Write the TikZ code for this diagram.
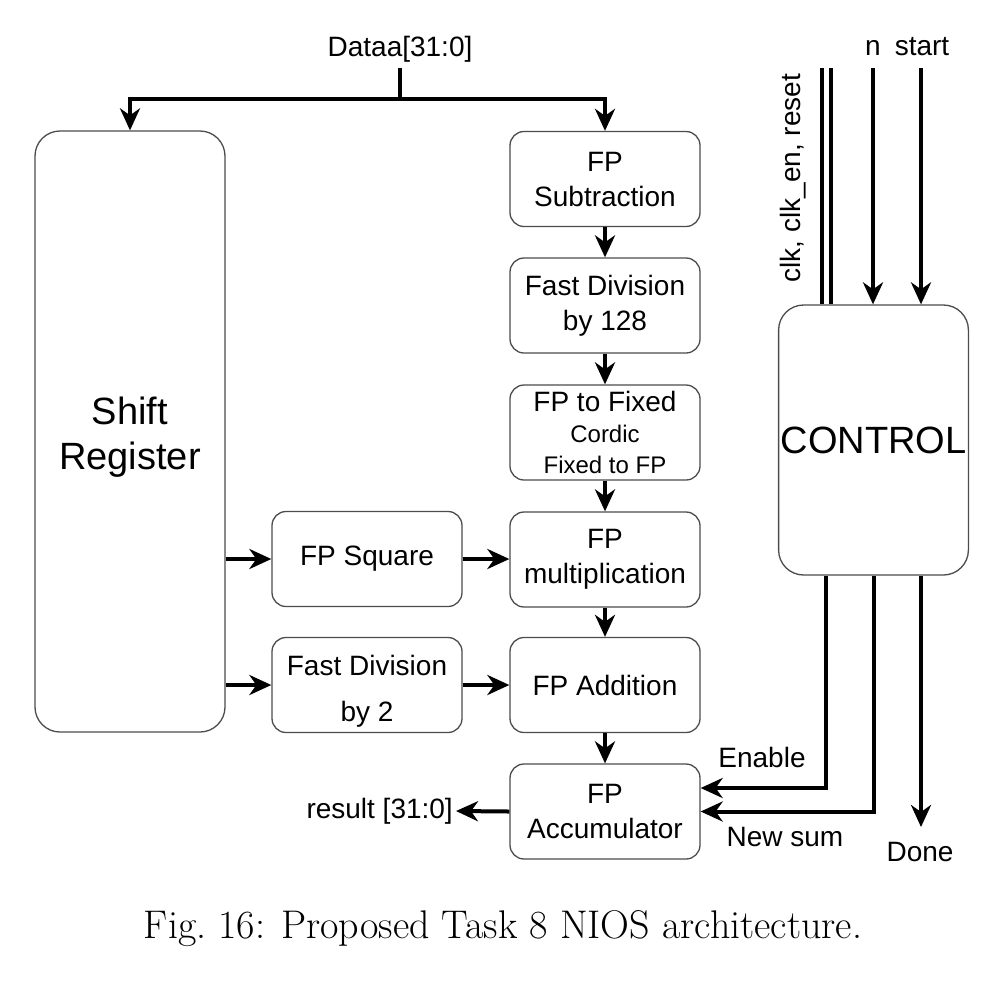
\documentclass[tikz,border=0pt]{standalone}
\usepackage{fontspec}
\newfontfamily\diagfont{Liberation Sans}
\usetikzlibrary{arrows.meta}
\tikzstyle{block} = [draw=black!70, line width=1.3pt, fill=white, rounded corners=14pt,
        minimum width=190pt, minimum height=95pt, inner sep=2pt, align=center,
        font={\diagfont\fontsize{28}{35}\selectfont}]
\tikzstyle{bigblock} = [block, rounded corners=25pt, font={\diagfont\fontsize{38}{45}\selectfont}]
\tikzstyle{sig} = [inner sep=3pt, font={\diagfont\fontsize{28}{34}\selectfont}]
\tikzstyle{wire} = [line width=4pt]
\tikzstyle{bus} = [line width=3.5pt]
\begin{document}
\begin{tikzpicture}[x=1pt, y=-1pt, >={Stealth[length=22pt,width=20pt,inset=7pt]}]
    \useasboundingbox (0,0) rectangle (1008,994);
    % blocks
    \node[bigblock, minimum height=601pt, text height=83pt] (shift) at (130,431.5) {Shift\\Register};
    \node[block] (sub) at (605,179) {FP\\Subtraction};
    \node[block] (div128) at (605,305.5) {Fast Division\\by 128};
    \node[block] (fix) at (605,432.5) {FP to Fixed\\[-4pt] \fontsize{24}{31}\selectfont Cordic\\[-4pt] \fontsize{24}{31}\selectfont Fixed to FP};
    \node[block] (mult) at (605,559.5) {FP\\multiplication};
    \node[block] (add) at (605,685) {FP Addition};
    \node[block] (acc) at (605,811.5) {FP\\Accumulator};
    \node[block] (sq) at (367,559) {FP Square};
    \node[block, text height=79pt] (div2) at (367,685) {Fast Division\\[11pt]by 2};
    \node[bigblock, minimum width=187pt, minimum height=270pt] (control) at (873.5,440) {CONTROL};
    % signal labels
    \node[sig, anchor=base] (dataa) at (400,56) {Dataa[31:0]};
    \node[sig, anchor=base] (nlbl) at (873,55) {n};
    \node[sig, anchor=base] (startlbl) at (922,55) {start};
    \node[sig, rotate=90] (clklbl) at (793,178) {clk, clk\_en, reset};
    \node[sig] (enlbl) at (762,757) {Enable};
    \node[sig] (sumlbl) at (785,837) {New sum};
    \node[sig] (donelbl) at (920,852) {Done};
    \node[sig, anchor=east] (result) at (456,811) {result [31:0]};
    \coordinate (datain) at (400,68);
    \coordinate (split) at (400,99);
    \coordinate (clka) at (822,68);
    \coordinate (clkb) at (831,68);
    \coordinate (nin) at (873,68);
    \coordinate (startin) at (921,68);
    \coordinate (doneend) at (921,827);
    % input bus
    \draw[wire] (datain) -- (split);
    \draw[wire,->] (split) -| (shift.north);
    \draw[wire,->] (split) -| (sub.north);
    % datapath
    \draw[wire,->] (sub) -- (div128);
    \draw[wire,->] (div128) -- (fix);
    \draw[wire,->] (fix) -- (mult);
    \draw[wire,->] (mult) -- (add);
    \draw[wire,->] (add) -- (acc);
    \draw[wire,->] (shift.east |- sq.west) -- (sq.west);
    \draw[wire,->] (shift.east |- div2.west) -- (div2.west);
    \draw[wire,->] (sq.east) -- (sq.east -| mult.west);
    \draw[wire,->] (div2.east) -- (div2.east -| add.west);
    \draw[wire,->] (acc.west) -- (result.east);
    % control
    \draw[bus] (clka) -- (clka |- control.north);
    \draw[bus] (clkb) -- (clkb |- control.north);
    \draw[wire,->] (nin) -- (nin |- control.north);
    \draw[wire,->] (startin) -- (startin |- control.north);
    \draw[wire,->] ([xshift=-47.5pt]control.south) |- ([yshift=23.5pt]acc.east);
    \draw[wire,->] (control.south) |- (acc.east);
    \draw[wire,->] ([xshift=47.5pt]control.south) -- (doneend);
    % caption
    \node[font=\fontsize{40}{48}\selectfont] (caption) at (503,929) {Fig.~16: Proposed Task 8 NIOS architecture.};
\end{tikzpicture}
\end{document}
